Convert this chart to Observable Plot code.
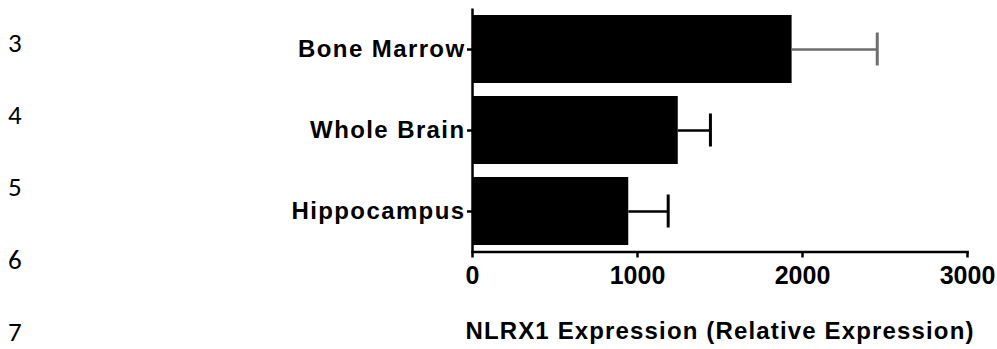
<!DOCTYPE html>
<html>
<head>
<meta charset="utf-8">
<script src="https://cdn.jsdelivr.net/npm/d3@7"></script>
<script src="https://cdn.jsdelivr.net/npm/@observablehq/plot@0.6"></script>
<style>
  html, body { margin: 0; padding: 0; background: #fff; }
  #wrap { position: relative; width: 997px; height: 349px; overflow: hidden; }
  .ln { position: absolute; left: 8px; font-family: "Carlito", "Open Sans", "Liberation Sans", sans-serif; font-size: 27px; color: #000; line-height: 20px; height: 20px; }
  g[aria-label="y-axis tick label"] text { letter-spacing: 1.4px; }
  .title text { letter-spacing: 1.15px; }
</style>
</head>
<body>
<div id="wrap"></div>
<script>
const categories = ["Bone Marrow", "Whole Brain", "Hippocampus"];
const values = [1937, 1247, 947];
const errors = [516, 195, 239];
const xTicks = [0, 1000, 2000, 3000];
const xTitle = "NLRX1 Expression (Relative Expression)";
const lineNumbers = ["3", "4", "5", "6", "7"];

const data = categories.map((c, i) => ({cat: c, value: values[i], hi: values[i] + errors[i]}));
const errColor = d => d.cat === "Bone Marrow" ? "#6e6e6e" : "#000";

const chart = Plot.plot({
  width: 997,
  height: 349,
  marginLeft: 472,
  marginRight: 30,
  marginTop: 8.5,
  marginBottom: 97.5,
  style: {fontFamily: "'Liberation Sans', Arial, sans-serif", fontWeight: "bold", color: "#000", background: "transparent"},
  x: {domain: [0, 3000], label: null},
  y: {domain: categories, paddingInner: 0.16, paddingOuter: 0.08, label: null},
  marks: [
    Plot.barX(data, {x: "value", y: "cat", fill: "#000"}),
    Plot.ruleY(data, {x1: "value", x2: "hi", y: "cat", stroke: errColor, strokeWidth: 2.5}),
    Plot.tickX(data, {x: "hi", y: "cat", stroke: errColor, strokeWidth: 3, insetTop: 17.5, insetBottom: 17.5}),
    Plot.ruleX([0], {stroke: "#000", strokeWidth: 2.5}),
    Plot.frame({anchor: "bottom", stroke: "#000", strokeWidth: 2.5}),
    Plot.axisX({ticks: xTicks, tickFormat: d => String(d), tickSize: 6, tickPadding: 8, fontSize: 25, fontWeight: "bold", strokeWidth: 2.5, label: null}),
    Plot.axisY({tickSize: 5, tickPadding: 2, fontSize: 24, fontWeight: "bold", strokeWidth: 2.5, label: null}),
    Plot.text([xTitle], {frameAnchor: "bottom", dy: 79.5, lineAnchor: "middle", fontSize: 24, fontWeight: "bold", className: "title"})
  ]
});

const wrap = document.getElementById("wrap");
wrap.appendChild(chart);
lineNumbers.forEach((t, i) => {
  const d = document.createElement("div");
  d.className = "ln";
  d.textContent = t;
  d.style.top = (32.5 + i * 72.4) + "px";
  wrap.appendChild(d);
});
</script>
</body>
</html>
